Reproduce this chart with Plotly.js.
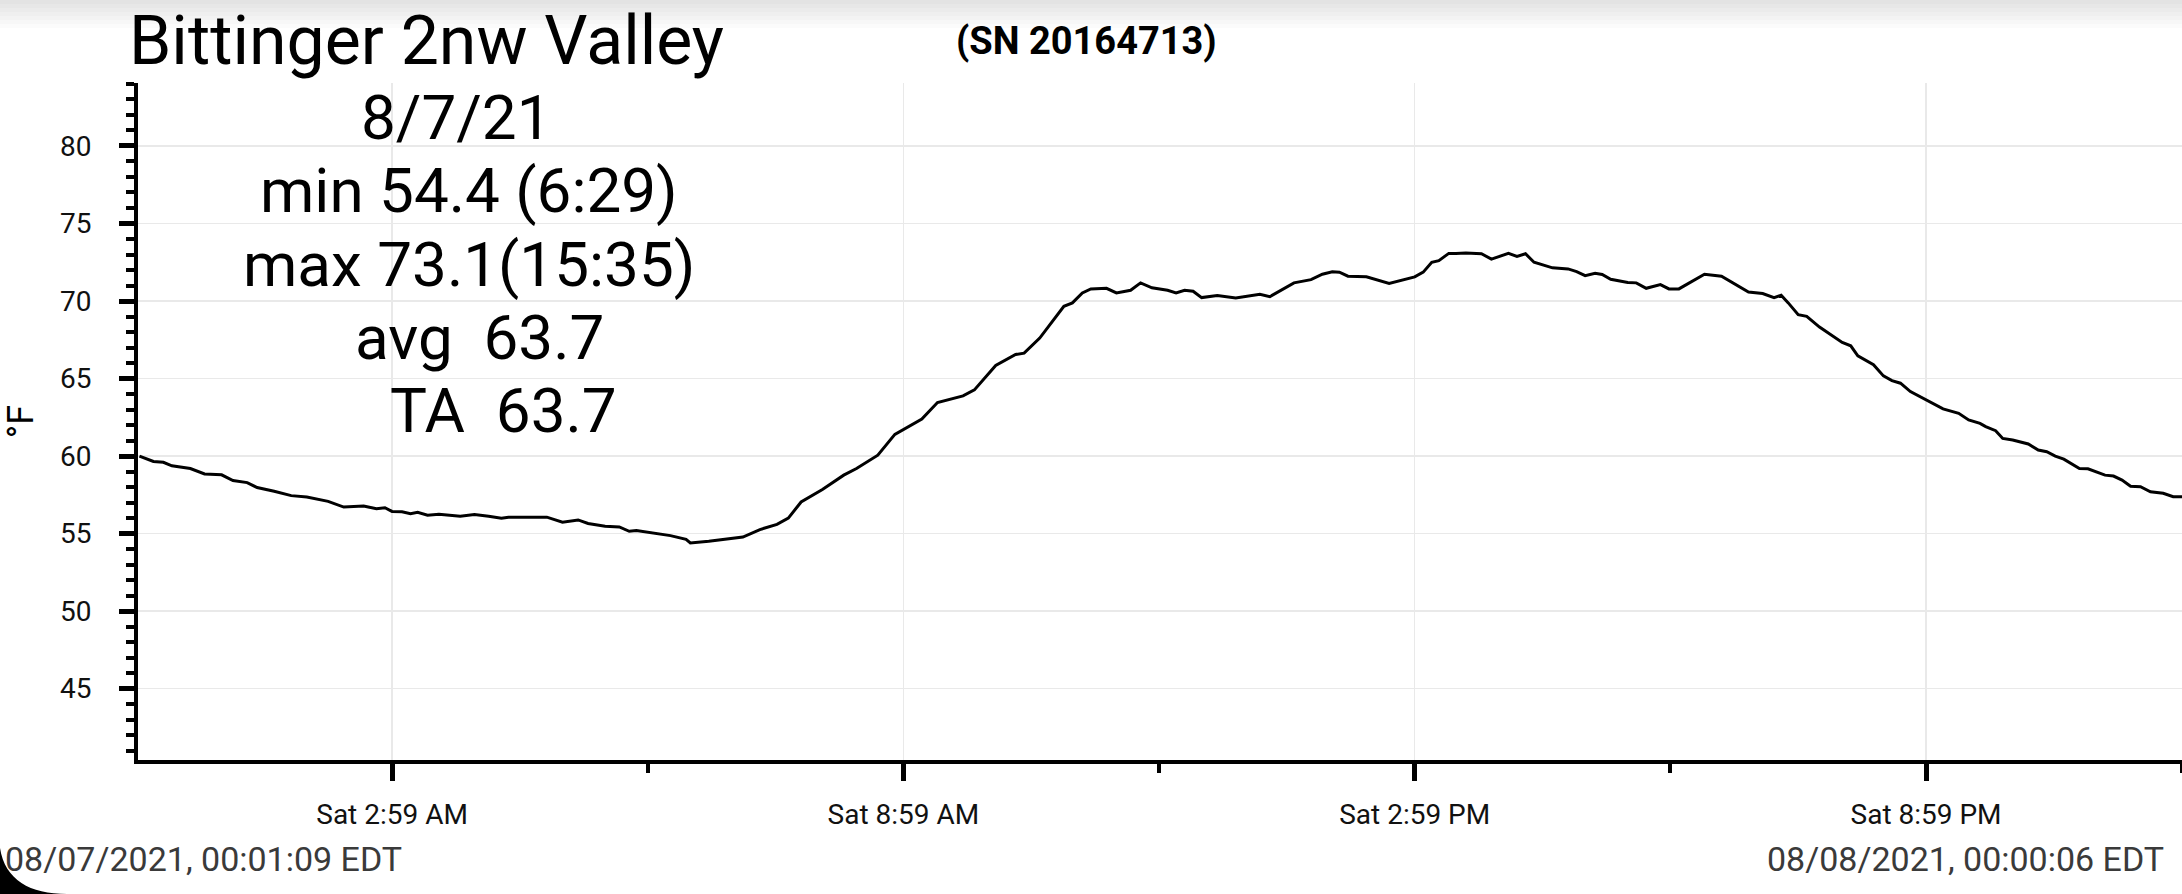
<!DOCTYPE html>
<html>
<head>
<meta charset="utf-8">
<script src="https://cdn.plot.ly/plotly-3.0.1.min.js"></script>
<style>
  html, body { margin: 0; padding: 0; background: #fff; }
  #chart { width: 2182px; height: 894px; }
</style>
</head>
<body>
<div id="chart"></div>
<script>
// logger readings, 8/7/21 (times)
const DAY = '2021-08-07'
const times = [
  '00:01:09','00:11','00:18','00:24','00:37','00:47','00:59','01:07','01:17','01:24',
  '01:36','01:48','01:59','02:14','02:25','02:39','02:48','02:54','02:59','03:06',
  '03:12','03:17','03:24','03:32','03:47','03:57','04:07','04:16','04:21','04:48',
  '04:59','05:10','05:17','05:29','05:39','05:46','05:51','06:03','06:15','06:26',
  '06:29','06:42','06:52','07:06','07:18','07:30','07:38','07:47','08:02','08:17',
  '08:26','08:41','08:53','09:12','09:23','09:41','09:49','10:04','10:18','10:24',
  '10:35','10:52','10:58','11:05','11:11','11:22','11:29','11:39','11:46','11:54',
  '12:05','12:11','12:17','12:23','12:29','12:40','12:53','13:10','13:17','13:34',
  '13:46','13:54','14:01','14:06','14:12','14:25','14:41','14:59','15:05','15:11',
  '15:16','15:23','15:28','15:35','15:46','15:53','16:05','16:11','16:17','16:23',
  '16:36','16:47','16:53','16:59','17:06','17:11','17:17','17:29','17:35','17:42',
  '17:52','17:58','18:05','18:13','18:23','18:35','18:47','18:54','19:04','19:12',
  '19:17','19:22','19:29','19:35','19:44','19:54','20:00','20:06','20:11','20:22',
  '20:29','20:35','20:41','20:48','20:59','21:11','21:22','21:29','21:37','21:41',
  '21:48','21:53','22:00','22:11','22:18','22:24','22:30','22:36','22:47','22:53',
  '23:05','23:11','23:17','23:23','23:30','23:37','23:46','23:53','2021-08-08 00:00:06'
]
const tempsF = [
  60.0, 59.65, 59.6, 59.37, 59.2, 58.85, 58.79, 58.42, 58.29, 57.97,
  57.73, 57.45, 57.36, 57.08, 56.71, 56.78, 56.6, 56.67, 56.43, 56.41,
  56.28, 56.37, 56.19, 56.25, 56.12, 56.23, 56.12, 55.99, 56.06, 56.06,
  55.74, 55.88, 55.65, 55.47, 55.43, 55.15, 55.2, 55.04, 54.87, 54.63,
  54.4, 54.5, 54.63, 54.78, 55.26, 55.6, 56.0, 57.04, 57.85, 58.77,
  59.2, 60.06, 61.4, 62.39, 63.45, 63.88, 64.27, 65.84, 66.55, 66.64,
  67.61, 69.66, 69.88, 70.52, 70.78, 70.82, 70.52, 70.69, 71.17, 70.85,
  70.69, 70.52, 70.69, 70.63, 70.22, 70.35, 70.2, 70.43, 70.28, 71.17,
  71.38, 71.73, 71.88, 71.86, 71.6, 71.56, 71.13, 71.56, 71.86, 72.5,
  72.6, 73.07, 73.07, 73.1, 73.05, 72.7, 73.07, 72.88, 73.05, 72.5,
  72.14, 72.07, 71.9, 71.64, 71.79, 71.71, 71.4, 71.19, 71.17, 70.82,
  71.06, 70.78, 70.78, 71.2, 71.73, 71.6, 70.95, 70.58, 70.48, 70.22,
  70.37, 69.88, 69.12, 69.01, 68.32, 67.72, 67.33, 67.11, 66.47, 65.89,
  65.17, 64.87, 64.7, 64.16, 63.62, 63.04, 62.76, 62.33, 62.11, 61.9,
  61.64, 61.14, 61.04, 60.78, 60.39, 60.28, 60.0, 59.8, 59.2, 59.18,
  58.77, 58.71, 58.45, 58.06, 58.02, 57.7, 57.6, 57.38, 57.38
]

const tickTimes = ['02:59', '08:59', '14:59', '20:59']
const tickLabels = ['Sat 2:59 AM', 'Sat 8:59 AM', 'Sat 2:59 PM', 'Sat 8:59 PM']
const minorTimes = ['05:59', '11:59', '17:59', '23:59']
const yTicks = [45, 50, 55, 60, 65, 70, 75, 80]

const chartTitle = 'Bittinger 2nw Valley'
const serial = '(SN 20164713)'
const infoLines = ['8/7/21', 'min 54.4 (6:29)', 'max 73.1(15:35)', 'avg\u00a0 63.7', 'TA\u00a0 63.7']
const startStamp = '08/07/2021, 00:01:09 EDT'
const endStamp = '08/08/2021, 00:00:06 EDT'

const W = 2182, H = 894
const M = {l: 138, r: 0, t: 83, b: 134}
const plotW = W - M.l - M.r
const plotH = H - M.t - M.b
// pixel -> paper helpers for the free text
const px = (x) => (x - M.l) / plotW
const py = (y) => (H - M.b - y) / plotH

const stamp = (t) => t.length > 8 ? t : DAY + ' ' + t

const trace = {
  x: times.map(stamp),
  y: tempsF,
  type: 'scatter',
  mode: 'lines',
  line: {color: '#000', width: 3},
  hoverinfo: 'skip'
}

// centre of each stats line, in picture pixels
const infoPos = [[456, 118], [469, 191], [469, 264], [479, 337], [503, 410]]

const annotations = infoLines.map((txt, i) => ({
  text: txt,
  xref: 'paper', yref: 'paper',
  x: px(infoPos[i][0]), y: py(infoPos[i][1]),
  xanchor: 'center', yanchor: 'middle',
  showarrow: false,
  borderpad: 0, borderwidth: 0,
  font: {family: 'Roboto', size: 62, color: '#000'}
}))

annotations.push({
  text: serial,
  xref: 'paper', yref: 'paper',
  x: px(1086), y: py(41),
  xanchor: 'center', yanchor: 'middle',
  showarrow: false,
  font: {family: 'Roboto', size: 38, color: '#000', weight: 700}
})
annotations.push({
  text: startStamp,
  xref: 'paper', yref: 'paper',
  x: px(3), y: py(859),
  xanchor: 'left', yanchor: 'middle',
  showarrow: false,
  font: {family: 'Roboto', size: 34, color: '#3a3a3a'}
})
annotations.push({
  text: endStamp,
  xref: 'paper', yref: 'paper',
  x: px(2166), y: py(859),
  xanchor: 'right', yanchor: 'middle',
  showarrow: false,
  font: {family: 'Roboto', size: 34, color: '#3a3a3a'}
})

// soft shadow along the top edge + dark screen corner bottom left
const shapes = []
for (let k = 1; k <= 7; k++) {
  shapes.push({
    type: 'rect', xref: 'paper', yref: 'paper', layer: 'below',
    x0: px(0), x1: px(W), y0: py(k * 4), y1: py(0),
    fillcolor: 'rgba(0,0,0,0.016)', line: {width: 0}
  })
}
shapes.push({
  type: 'path', xref: 'paper', yref: 'paper', layer: 'above',
  path: 'M ' + px(0) + ',' + py(848) +
        ' C ' + px(5) + ',' + py(880) + ' ' + px(30) + ',' + py(894) + ' ' + px(67) + ',' + py(894) +
        ' L ' + px(0) + ',' + py(894) + ' Z',
  fillcolor: '#000', line: {width: 0}
})

const layout = {
  width: W,
  height: H,
  margin: M,
  paper_bgcolor: '#fff',
  plot_bgcolor: '#fff',
  showlegend: false,
  hovermode: false,
  font: {family: 'Roboto', color: '#000'},
  title: {
    text: chartTitle,
    xref: 'container', yref: 'container',
    x: 129 / W, xanchor: 'left',
    y: 1 - 40.5 / H, yanchor: 'middle',
    font: {family: 'Roboto', size: 68, color: '#000'}
  },
  xaxis: {
    type: 'date',
    range: [DAY + ' 00:00:08', DAY + ' 23:59:13'],
    tickmode: 'array',
    tickvals: tickTimes.map(stamp),
    ticktext: tickLabels,
    ticks: 'outside',
    ticklen: 17,
    tickwidth: 5,
    tickcolor: '#000',
    ticklabelstandoff: 9,
    tickfont: {family: 'Roboto', size: 28, color: '#111'},
    showline: true,
    linecolor: '#000',
    linewidth: 4,
    showgrid: true,
    gridcolor: '#e9e9e9',
    gridwidth: 1.5,
    zeroline: false,
    minor: {
      tickmode: 'array',
      tickvals: minorTimes.map(stamp),
      ticks: 'outside',
      ticklen: 9,
      tickwidth: 4,
      tickcolor: '#000',
      showgrid: false
    }
  },
  yaxis: {
    range: [40.4, 84.06],
    tickmode: 'array',
    tickvals: yTicks,
    ticktext: yTicks.map(String),
    ticks: 'outside',
    ticklen: 15,
    tickwidth: 5,
    tickcolor: '#000',
    ticklabelstandoff: 22,
    tickfont: {family: 'Roboto', size: 28, color: '#111'},
    showline: true,
    linecolor: '#000',
    linewidth: 4,
    showgrid: true,
    gridcolor: '#e9e9e9',
    gridwidth: 1.5,
    zeroline: false,
    title: {text: '°F', standoff: 16, font: {family: 'Roboto', size: 36, color: '#000'}},
    minor: {
      dtick: 1,
      tick0: 0,
      ticks: 'outside',
      ticklen: 8,
      tickwidth: 4,
      tickcolor: '#000',
      showgrid: false
    }
  },
  annotations: annotations,
  shapes: shapes
}

Plotly.newPlot('chart', [trace], layout, {displayModeBar: false, staticPlot: true})
</script>
</body>
</html>
